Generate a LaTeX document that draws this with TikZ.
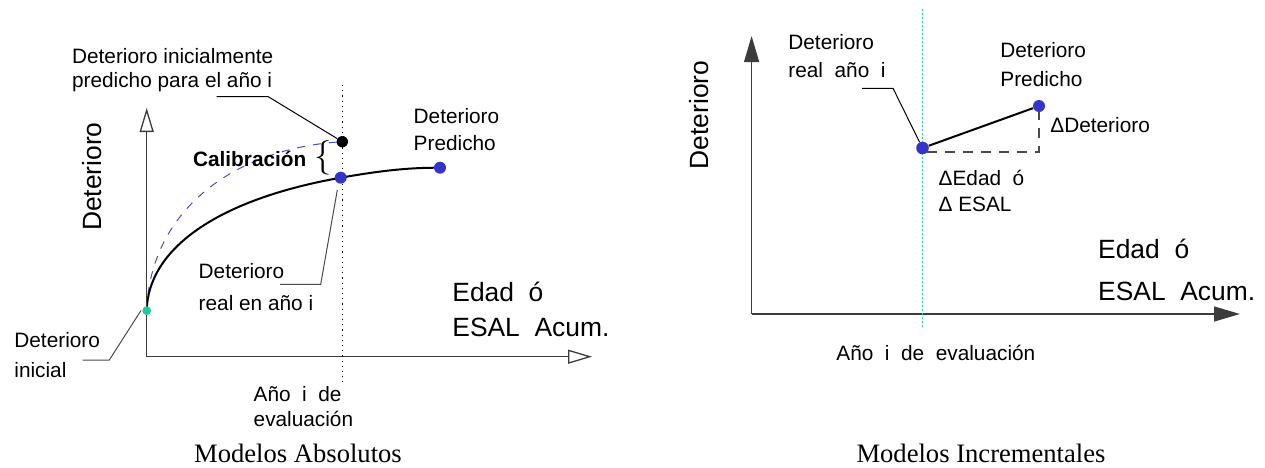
\documentclass[tikz,border=0pt]{standalone}
\usepackage{fontspec}
\setmainfont{Liberation Sans}
\newfontfamily\capfont{Liberation Serif}
\usepackage{tikz}
\usetikzlibrary{arrows.meta,positioning,backgrounds}
\definecolor{axisgray}{HTML}{3C3C3C}
\definecolor{leadgray}{HTML}{4A4A4A}
\definecolor{dotblue}{HTML}{3434C8}
\definecolor{dotteal}{HTML}{1ECB9E}
\definecolor{curveblue}{HTML}{4A4AD8}

\begin{document}
\begin{tikzpicture}[x=0.5pt,y=-0.5pt,
  lbl/.style={font=\fontsize{10.4}{#1}\selectfont,anchor=west,align=left,inner sep=0pt},
  lbl/.default=12,
  big/.style={font=\fontsize{13.2}{#1}\selectfont,anchor=west,align=left,inner sep=0pt},
  big/.default=16,
  capt/.style={font=\capfont\fontsize{13.3}{16}\selectfont,inner sep=0pt},
  ptdot/.style={circle,fill=#1,inner sep=0pt,minimum size=6pt},
  axopen/.style={draw=axisgray,line width=0.65pt,-{Triangle[open,length=12pt,width=7pt]}},
  axfill/.style={draw=axisgray,line width=0.65pt,-{Triangle[length=13pt,width=7.5pt]}},
  ldr/.style={draw=black,line width=0.5pt}
]
  \useasboundingbox (0,0) rectangle (1265,467);

  % Modelos Absolutos
  \coordinate (oA) at (146.7,356.7);
  \coordinate (yA) at (146.7,108);
  \coordinate (xA) at (592,356.7);
  \draw[axopen] (oA) -- (yA);
  \draw[axopen] (oA) -- (xA);
  \coordinate (evA1) at (342.5,85);
  \coordinate (evA2) at (342.5,381.7);
  \draw[black,dotted,line width=0.6pt] (evA1) -- (evA2);

  \node[ptdot=dotteal,minimum size=4.4pt] (ini) at (146.7,310.7) {};
  \node[ptdot=dotblue] (real) at (340.7,177.7) {};
  \node[ptdot=dotblue] (predA) at (440,167.7) {};
  \node[ptdot=black,minimum size=5.7pt] (orig) at (342.3,141.7) {};
  \begin{scope}[on background layer]
    \draw[curveblue,line width=0.5pt,dash pattern=on 4pt off 4pt]
      (ini.center) .. controls (150,210) and (235,148) .. (orig.center);
    \draw[line width=1pt] (ini.center) .. controls (148,250) and (215,200) .. (real.center)
      .. controls (390,169) and (415,167.7) .. (predA.center);
  \end{scope}

  \node[big,rotate=90,anchor=center] (yLabA) at (91.7,176.7) {Deterioro};
  \node[lbl=11.7] (lOrig) at (71.7,70) {Deterioro inicialmente\\predicho para el año i};
  \coordinate (kOrig1) at (216.7,96.7);
  \coordinate (kOrig2) at (268.3,96.7);
  \draw[ldr] (kOrig1) -- (kOrig2) -- (orig);
  \node[lbl] (calib) at (192.7,159.3) {\textbf{Calibración}};
  \node[font=\fontsize{17}{17}\selectfont,inner sep=0pt] (brace) at (323,158) {$\{$};
  \node[lbl=13.7] (lPredA) at (413.3,129.7) {Deterioro\\Predicho};
  \node[lbl=16.3] (lReal) at (198.3,287) {Deterioro\\real en año i};
  \coordinate (kReal1) at (280,284.3);
  \coordinate (kReal2) at (320.7,284.3);
  \coordinate (kReal3) at (337.3,190);
  \draw[ldr,draw=leadgray] (kReal1) -- (kReal2) -- (kReal3);
  \node[lbl=15] (lIni) at (14,355) {Deterioro\\inicial};
  \coordinate (kIni1) at (82.7,360);
  \coordinate (kIni2) at (109.3,360);
  \coordinate (kIni3) at (141,310.5);
  \draw[ldr,draw=leadgray] (kIni1) -- (kIni2) -- (kIni3);
  \node[big=17.5] (xLabA) at (452,309) {Edad\ \ ó\\ESAL\ \ Acum.};
  \node[lbl=12.65] (lEvA) at (253.3,406.7) {Año\ \ i\ \ de\\evaluación};
  \node[capt] (capA) at (298,453) {Modelos Absolutos};

  % Modelos Incrementales
  \coordinate (oB) at (751.6,314);
  \coordinate (yB) at (751.6,36);
  \coordinate (xB) at (1240,314);
  \draw[axfill] (oB) -- (yB);
  \draw[axfill] (oB) -- (xB);
  \coordinate (evB1) at (922.5,9.3);
  \coordinate (evB2) at (922.5,326.7);
  \draw[dotteal,line width=0.5pt,dash pattern=on 1pt off 1pt] (evB1) -- (evB2);

  \node[ptdot=dotblue,minimum size=6.3pt] (realB) at (922.5,148) {};
  \node[ptdot=dotblue] (predB) at (1039,106) {};
  \draw[line width=1pt] (realB) -- (predB);
  \coordinate (dl) at (927,152);
  \coordinate (dr) at (1039,152);
  \draw[leadgray,line width=0.6pt,dash pattern=on 5pt off 4pt] (dl) -- (dr) -- (predB);

  \node[big,rotate=90,anchor=center] (yLabB) at (699,115) {Deterioro};
  \node[lbl=14.2] (lRealB) at (788,55.9) {Deterioro\\real\ \ año\ \ i};
  \coordinate (kRB1) at (862,88.3);
  \coordinate (kRB2) at (893,88.3);
  \draw[ldr] (kRB1) -- (kRB2) -- (realB);
  \node[lbl=14.7] (lPredB) at (1000,64.7) {Deterioro\\Predicho};
  \node[lbl] (dDet) at (1050,125.5) {ΔDeterioro};
  \node[lbl=13] (dEdad) at (938.3,191) {ΔEdad\ \ ó\\Δ\ ESAL};
  \node[big=20.8] (xLabB) at (1097.8,270) {Edad\ \ ó\\ESAL\ \ Acum.};
  \node[lbl] (lEvB) at (836,352.7) {Año\ \ i\ \ de\ \ evaluación};
  \node[capt] (capB) at (981,453) {Modelos Incrementales};
\end{tikzpicture}
\end{document}
